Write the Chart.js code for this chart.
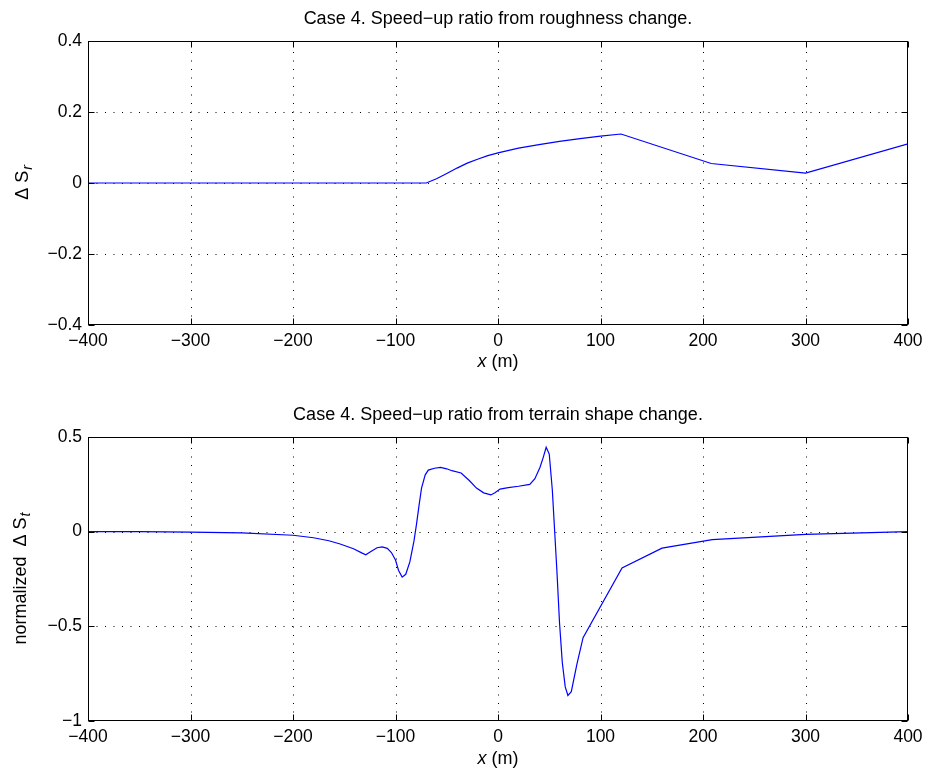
<!DOCTYPE html>
<html>
<head>
<meta charset="utf-8">
<script src="https://cdn.jsdelivr.net/npm/chart.js@4/dist/chart.umd.min.js"></script>
<style>
  html,body{margin:0;padding:0;background:#fff;}
  #wrap{position:relative;width:931px;height:773px;}
  canvas{position:absolute;left:0;}
</style>
</head>
<body>
<div id="wrap">
  <canvas id="c1" width="931" height="386" style="top:0"></canvas>
  <canvas id="c2" width="931" height="387" style="top:386px"></canvas>
</div>
<script>
// ---------- data ----------
const topTitle = 'Case 4. Speed\u2212up ratio from roughness change.';
const botTitle = 'Case 4. Speed\u2212up ratio from terrain shape change.';
const xTickValues = [-400, -300, -200, -100, 0, 100, 200, 300, 400];
const topYTickValues = [-0.4, -0.2, 0, 0.2, 0.4];
const botYTickValues = [-1, -0.5, 0, 0.5];

const topX = [-400, -300, -200, -100, -70, -60, -50, -40, -30, -20, -10, 0, 20, 40, 60, 80, 100, 120, 208, 300, 400];
const topY = [0, 0, 0, 0, 0, 0.012, 0.027, 0.042, 0.056, 0.067, 0.077, 0.085, 0.098, 0.108, 0.117, 0.125, 0.132, 0.138, 0.055, 0.028, 0.110];

const botX = [-400, -350, -300, -250, -200, -180, -165, -154, -141, -133, -129, -124, -118, -113, -108, -104, -100, -97, -93.5, -90, -86, -82, -79.5, -77, -74.6, -71, -68, -62, -56, -50, -45, -36, -28, -21, -14, -7, -3, 2, 10, 20, 31, 36, 41, 44, 47, 50, 53, 55.3, 57.5, 60, 62.7, 65.6, 68.2, 71.5, 77, 83, 121, 160, 209, 300, 400];
const botY = [0, 0, -0.002, -0.006, -0.019, -0.032, -0.048, -0.065, -0.09, -0.112, -0.122, -0.105, -0.085, -0.08, -0.088, -0.11, -0.15, -0.205, -0.24, -0.225, -0.16, -0.05, 0.04, 0.14, 0.23, 0.30, 0.325, 0.335, 0.339, 0.332, 0.322, 0.31, 0.27, 0.23, 0.205, 0.194, 0.205, 0.225, 0.233, 0.240, 0.250, 0.28, 0.34, 0.39, 0.446, 0.41, 0.22, 0.0, -0.21, -0.48, -0.69, -0.82, -0.865, -0.845, -0.70, -0.56, -0.192, -0.087, -0.042, -0.014, 0];

// ---------- helpers ----------
const FONT = '"Liberation Sans", Arial, Helvetica, sans-serif';
const FS = 18;     // titles / labels
const TFS = 17.5;  // tick labels
function fmt(v){
  let s = String(Math.round(v*100)/100);
  return s.replace('-', '\u2212');
}
function pts(xs, ys){ return xs.map((x,i)=>({x:x, y:ys[i]})); }

const matlabAxes = {
  id: 'matlabAxes',
  beforeDatasetsDraw(chart, args, o){
    const {ctx, chartArea:a, scales:{x, y}} = chart;
    ctx.save();
    ctx.strokeStyle = '#000';
    ctx.lineWidth = 1;
    ctx.setLineDash([1, 7.5]);
    x.ticks.forEach(t=>{
      const px = Math.round(x.getPixelForValue(t.value)) + 0.5;
      if (px < a.left+2 || px > a.right-2) return;
      ctx.beginPath(); ctx.moveTo(px, a.bottom); ctx.lineTo(px, a.top); ctx.stroke();
    });
    y.ticks.forEach(t=>{
      const py = Math.round(y.getPixelForValue(t.value)) + 0.5;
      if (py < a.top+2 || py > a.bottom-2) return;
      ctx.beginPath(); ctx.moveTo(a.left, py); ctx.lineTo(a.right, py); ctx.stroke();
    });
    ctx.restore();
  },
  afterDraw(chart, args, o){
    const {ctx, chartArea:a, scales:{x, y}} = chart;
    ctx.save();
    ctx.strokeStyle = '#000';
    ctx.lineWidth = 1;
    ctx.setLineDash([]);
    const L = 6;
    const l = Math.round(a.left)+0.5, r = Math.round(a.right)-0.5, tp = Math.round(a.top)+0.5, bt = Math.round(a.bottom)-0.5;
    ctx.strokeRect(l, tp, r-l, bt-tp);
    ctx.beginPath();
    x.ticks.forEach(t=>{
      const px = Math.round(x.getPixelForValue(t.value)) + 0.5;
      ctx.moveTo(px, bt); ctx.lineTo(px, bt-L);
      ctx.moveTo(px, tp); ctx.lineTo(px, tp+L);
    });
    y.ticks.forEach(t=>{
      const py = Math.round(y.getPixelForValue(t.value)) + 0.5;
      ctx.moveTo(l, py); ctx.lineTo(l+L, py);
      ctx.moveTo(r, py); ctx.lineTo(r-L, py);
    });
    ctx.stroke();

    ctx.fillStyle = '#000';
    const cx = (a.left + a.right)/2;
    // title
    ctx.font = FS + 'px ' + FONT;
    ctx.textAlign = 'center';
    ctx.textBaseline = 'middle';
    ctx.fillText(o.title, cx, o.titleY);
    // x label: italic x + " (m)"
    ctx.textAlign = 'left';
    const itf = 'italic ' + FS + 'px ' + FONT, nf = FS + 'px ' + FONT;
    ctx.font = itf; const w1 = ctx.measureText('x').width;
    ctx.font = nf; const w2 = ctx.measureText(' (m)').width;
    let sx = cx - (w1+w2)/2;
    ctx.font = itf; ctx.fillText('x', sx, o.xLabelY);
    ctx.font = nf; ctx.fillText(' (m)', sx + w1, o.xLabelY);
    // y label (rotated) with subscript
    const cy = (a.top + a.bottom)/2;
    ctx.translate(o.yLabelX, cy);
    ctx.rotate(-Math.PI/2);
    const subF = 'italic ' + Math.round(FS*0.8) + 'px ' + FONT;
    ctx.font = nf; const m1 = ctx.measureText(o.yMain).width;
    ctx.font = subF; const m2 = ctx.measureText(o.ySub).width;
    let st = -(m1+m2)/2;
    ctx.textBaseline = 'alphabetic';
    ctx.font = nf; ctx.fillText(o.yMain, st, 6);
    ctx.font = subF; ctx.fillText(o.ySub, st + m1 + 1, 10);
    ctx.restore();
  }
};

function makeChart(id, xs, ys, yTicks, ymin, ymax, padTop, xH, opts){
  return new Chart(document.getElementById(id), {
    type: 'line',
    data: { datasets: [{ data: pts(xs, ys), borderColor: '#0000ff', borderWidth: 1.2, pointRadius: 0, tension: 0, fill: false }] },
    options: {
      responsive: false, animation: false, devicePixelRatio: 1,
      layout: { padding: { top: padTop, right: 23, left: 0, bottom: 0 } },
      plugins: { legend: {display:false}, tooltip: {enabled:false}, title:{display:false}, matlabAxes: opts },
      scales: {
        x: {
          type: 'linear', min: -400, max: 400,
          afterBuildTicks: s => { s.ticks = xTickValues.map(v=>({value:v})); },
          afterFit: s => { s.height = xH; },
          grid: { display: false, drawTicks: false },
          border: { display: false },
          ticks: { color: '#000', font: { family: FONT, size: TFS }, padding: 6, maxRotation: 0, autoSkip: false, callback: v => fmt(v) }
        },
        y: {
          type: 'linear', min: ymin, max: ymax,
          afterBuildTicks: s => { s.ticks = yTicks.map(v=>({value:v})); },
          afterFit: s => { s.width = 88; },
          grid: { display: false, drawTicks: false },
          border: { display: false },
          ticks: { color: '#000', font: { family: FONT, size: TFS }, padding: 6, autoSkip: false, callback: v => fmt(v) }
        }
      }
    },
    plugins: [matlabAxes]
  });
}

makeChart('c1', topX, topY, topYTickValues, -0.4, 0.4, 41, 61,
  { title: topTitle, titleY: 19, xLabelY: 362, yLabelX: 22, yMain: '\u0394 S', ySub: 'r' });
makeChart('c2', botX, botY, botYTickValues, -1, 0.5, 51, 52,
  { title: botTitle, titleY: 29, xLabelY: 373, yLabelX: 20, yMain: 'normalized  \u0394 S', ySub: 't' });
</script>
</body>
</html>
